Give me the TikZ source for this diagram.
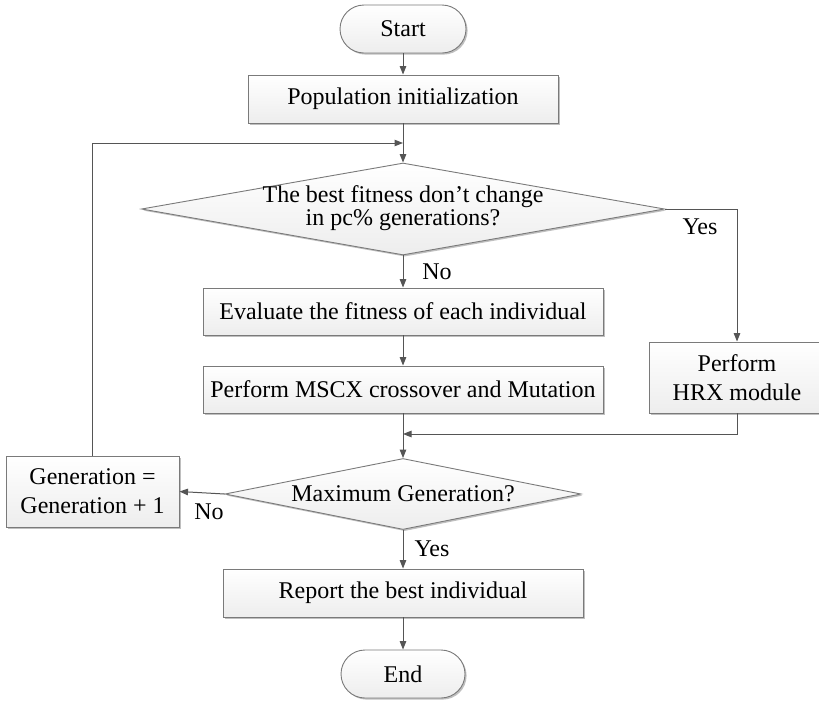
\documentclass[tikz,border=0pt]{standalone}
\usepackage{fontspec}
\setmainfont{Liberation Serif}
\usetikzlibrary{arrows.meta,shapes.geometric,shadows}
\definecolor{linec}{HTML}{555555}
\definecolor{boxc}{HTML}{7A7A7A}
\begin{document}
\begin{tikzpicture}[x=1pt,y=-1pt,
  font=\fontsize{24}{29}\selectfont,
  base/.style={draw=boxc, line width=0.9pt, top color=white, bottom color=gray!14,
    drop shadow={shadow xshift=1.6pt, shadow yshift=-1.6pt, fill=black, opacity=0.25},
    inner sep=0pt, align=center},
  procbox/.style={base, rectangle},
  termbox/.style={base, rectangle, rounded corners=24pt},
  decbox/.style={base, diamond, inner sep=0pt},
  arr/.style={draw=linec, line width=1pt, -{Triangle[length=8.5pt,width=6.5pt]}},
  lbl/.style={inner sep=0pt}
]
\useasboundingbox (0,0) rectangle (819,702);
\clip (0,0) rectangle (819,702);
\fill[white] (0,0) rectangle (819,702);

\node[termbox, minimum width=126pt, minimum height=48pt] (start) at (403,29) {Start};
\node[procbox, minimum width=310pt, minimum height=48pt] (pop) at (403,99) {Population initialization};
\node[decbox, minimum width=523pt, minimum height=92pt] (d1) at (403,209) {};
\node[align=center, font=\fontsize{24}{23}\selectfont] (d1t) at (403,208) {The best fitness don’t change\\in pc\% generations?};
\node[procbox, minimum width=400pt, minimum height=47pt] (eval) at (403,311.5) {Evaluate the fitness of each individual};
\node[procbox, minimum width=400pt, minimum height=47pt] (mscx) at (403,389.5) {Perform MSCX crossover and Mutation};
\node[procbox, minimum width=176pt, minimum height=71pt] (hrx) at (737,377.5) {Perform\\HRX module};
\node[decbox, minimum width=356pt, minimum height=71pt] (d2) at (403,494) {};
\node (d2t) at (403,494) {Maximum Generation?};
\node[procbox, minimum width=173pt, minimum height=71pt] (gen) at (92.5,491.5) {Generation =\\Generation + 1};
\node[procbox, minimum width=360pt, minimum height=48pt] (rep) at (403,593) {Report the best individual};
\node[termbox, minimum width=124pt, minimum height=48pt] (end) at (403,674) {End};

\coordinate (j1) at (403,143);
\coordinate (j2) at (403,434);

\draw[arr] (start) -- (pop);
\draw[arr] (pop) -- (d1.north);
\draw[arr] (gen.north) |- (j1);
\draw[arr] (d1.east) -| (hrx.north);
\draw[arr] (d1.south) -- (eval);
\draw[arr] (eval) -- (mscx);
\draw[arr] (mscx) -- (d2.north);
\draw[arr] (hrx.south) |- (j2);
\draw[arr] (d2.west) -- (gen.east);
\draw[arr] (d2.south) -- (rep);
\draw[arr] (rep) -- (end);

\node[lbl] (yes1) at (700,227) {Yes};
\node[lbl] (no1) at (437,272) {No};
\node[lbl] (no2) at (209,512) {No};
\node[lbl] (yes2) at (432,549) {Yes};
\end{tikzpicture}
\end{document}
